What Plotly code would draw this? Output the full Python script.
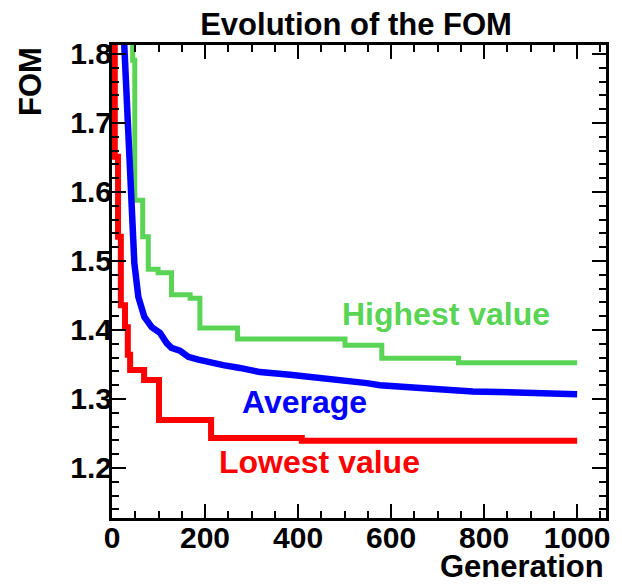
import plotly.graph_objects as go

# ---- data ----
lowest_gen = [0, 6, 13, 19, 28, 34, 39, 69, 101, 213, 408, 1000]
lowest_val = [1.95, 1.651, 1.535, 1.436, 1.404, 1.364, 1.342, 1.3275, 1.2696, 1.2435, 1.2395, 1.2395]

highest_gen = [0, 44.5, 49, 66, 78, 99, 128, 168, 189, 270, 501, 580, 745, 1000]
highest_val = [1.95, 1.791, 1.588, 1.535, 1.488, 1.483, 1.451, 1.446, 1.403, 1.387, 1.378, 1.359, 1.3526, 1.3526]

average_gen = [17, 26.5, 35, 37, 45, 48, 56.6, 69.5, 85.4, 103, 117.6, 128, 146, 164, 185.6, 214, 239,
               275, 318, 383, 432, 475, 548, 576, 641, 727, 776, 849, 920, 1000]
average_val = [1.95, 1.813, 1.704, 1.664, 1.54, 1.497, 1.448, 1.419, 1.404, 1.396, 1.381, 1.374, 1.370,
               1.361, 1.357, 1.352, 1.349, 1.345, 1.339, 1.335, 1.332, 1.3275, 1.323, 1.320, 1.316,
               1.313, 1.311, 1.309, 1.3077, 1.307]

labels = ["Highest value", "Average", "Lowest value"]
label_pos = [(717, 1.423), (413, 1.295), (447, 1.209)]

RED = "#ff0000"
BLUE = "#0000ff"
GREEN = "#59d454"
FONT = "Liberation Sans, Arial, Helvetica, sans-serif"

fig = go.Figure()
fig.add_trace(go.Scatter(x=highest_gen, y=highest_val, mode="lines", line_shape="hv",
                         line=dict(color=GREEN, width=5), showlegend=False))
fig.add_trace(go.Scatter(x=average_gen, y=average_val, mode="lines",
                         line=dict(color=BLUE, width=6.5), showlegend=False))
fig.add_trace(go.Scatter(x=lowest_gen, y=lowest_val, mode="lines", line_shape="hv",
                         line=dict(color=RED, width=6), showlegend=False))

for txt, (gx, gy), col in zip(labels, label_pos, [GREEN, BLUE, RED]):
    fig.add_annotation(x=gx, y=gy, xref="x", yref="y", text=txt, showarrow=False,
                       xanchor="center", yanchor="middle",
                       font=dict(family=FONT, size=32, color=col, weight="bold"))

# axis titles
fig.add_annotation(x=1.0, y=-0.103, xref="paper", yref="paper", text="Generation", showarrow=False,
                   xanchor="right", yanchor="middle",
                   font=dict(family=FONT, size=31, color="black", weight="bold"))
fig.add_annotation(x=-0.164, y=0.924, xref="paper", yref="paper", text="FOM", showarrow=False,
                   textangle=-90, xanchor="center", yanchor="middle",
                   font=dict(family=FONT, size=31, color="black", weight="bold"))

axis_common = dict(showgrid=False, zeroline=False, showline=True, linecolor="black", linewidth=3,
                   mirror="ticks", ticks="inside", tickcolor="black", tickwidth=1.5,
                   tickfont=dict(family=FONT, size=30, color="black", weight="bold"))

fig.update_xaxes(range=[0, 1062], tick0=0, dtick=200, ticklen=14, ticklabelstandoff=-9,
                 minor=dict(dtick=50, ticks="inside", ticklen=7, tickcolor="black", tickwidth=1.5),
                 **axis_common)
fig.update_yaxes(range=[1.1275, 1.813], tick0=1.2, dtick=0.1, ticklen=14, tickformat=".1f",
                 ticklabelstandoff=-9,
                 minor=dict(dtick=0.02, ticks="inside", ticklen=7, tickcolor="black", tickwidth=1.5),
                 **axis_common)

fig.update_layout(
    width=622, height=585,
    margin=dict(l=112, r=16, t=45, b=67),
    paper_bgcolor="white", plot_bgcolor="white",
    title=dict(text="Evolution of the FOM", x=0.494, xref="paper", xanchor="center",
               y=1 - 24 / 585, yref="container", yanchor="middle",
               font=dict(family=FONT, size=31, color="black", weight="bold")),
)

fig.write_html("out.html")
